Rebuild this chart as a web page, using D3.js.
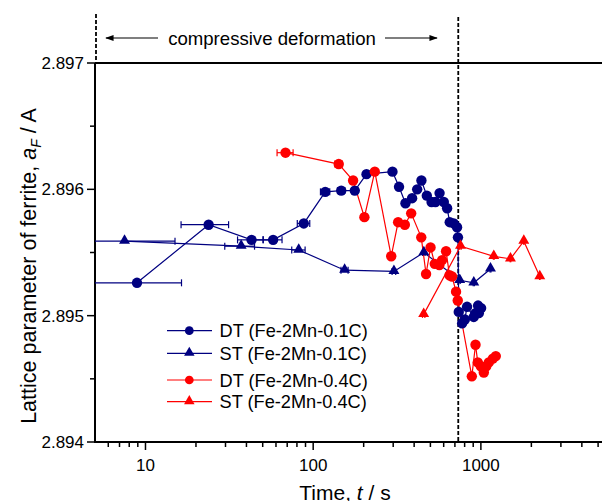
<!DOCTYPE html>
<html><head><meta charset="utf-8">
<script src="https://cdn.jsdelivr.net/npm/d3@7/dist/d3.min.js"></script>
<style>
html,body{margin:0;padding:0;background:#fff;}
svg{display:block;font-family:"Liberation Sans",Arial,Helvetica,sans-serif;}
</style></head>
<body><svg id="chart" width="602" height="501"></svg>
<script>
// ---- data (time in s, lattice parameter in A) ----
const dt01Time = [8.9, 23.8, 42.9, 57.7, 87.9, 118, 147, 177, 208, 297, 325, 355, 389, 417, 442, 476, 508, 536, 567, 601, 629, 652, 689, 721, 730, 738, 773, 802, 827, 907, 929, 962, 972, 1003];
const dt01Val  = [2.89526, 2.89572, 2.89560, 2.89560, 2.89573, 2.89598, 2.89599, 2.89599, 2.89612, 2.89614, 2.89602, 2.89589, 2.89593, 2.89600, 2.89607, 2.89595, 2.89590, 2.89590, 2.89597, 2.89590, 2.89585, 2.89574, 2.89573, 2.89570, 2.89562, 2.89503, 2.89494, 2.89497, 2.89507, 2.89499, 2.89502, 2.89508, 2.89502, 2.89506];

const st01Time = [7.5, 37.2, 82, 154, 303, 457, 748, 907, 1141];
const st01Val  = [2.89559, 2.89555, 2.89552, 2.89536, 2.89535, 2.89550, 2.89528, 2.89526, 2.89537];

const dt04Time = [68.4, 142, 173, 202, 233, 292, 321, 352, 384, 441, 471, 501, 531, 565, 587, 620, 650, 673, 711, 728, 883, 929, 958, 999, 1041, 1077, 1115, 1178, 1227];
const dt04Val  = [2.89629, 2.89620, 2.89607, 2.89578, 2.89614, 2.89547, 2.89574, 2.89572, 2.89581, 2.89562, 2.89533, 2.89554, 2.89541, 2.89540, 2.89544, 2.89551, 2.89532, 2.89531, 2.89519, 2.89512, 2.89452, 2.89477, 2.89463, 2.89460, 2.89455, 2.89460, 2.89463, 2.89466, 2.89468];

const st04Time = [456, 756, 1194, 1501, 1803, 2245];
const st04Val  = [2.89501, 2.89555, 2.89547, 2.89545, 2.89559, 2.89531];

const timeErr = 7.5; // +/- s
const seriesNames = ["DT (Fe-2Mn-0.1C)", "ST (Fe-2Mn-0.1C)", "DT (Fe-2Mn-0.4C)", "ST (Fe-2Mn-0.4C)"];
const yTickLabels = [2.894, 2.895, 2.896, 2.897];
const xTickLabels = [10, 100, 1000];
const deformationStart = 5, deformationEnd = 733;

// ---- layout ----
const svg = d3.select("#chart");
const xMin = 5, xMax = 7000;
const pL = 95, pT = 63, pB = 442, decadePx = 167.7;
const x = d3.scaleLog().domain([xMin, xMax]).range([pL, pL + decadePx * Math.log10(xMax / xMin)]);
const y = d3.scaleLinear().domain([2.894, 2.897]).range([pB, pT]);
const navy = "#000080", red = "#ff0000";

const series = [
  {name: seriesNames[0], t: dt01Time, v: dt01Val, color: navy, shape: "circle"},
  {name: seriesNames[1], t: st01Time, v: st01Val, color: navy, shape: "triangle"},
  {name: seriesNames[2], t: dt04Time, v: dt04Val, color: red, shape: "circle"},
  {name: seriesNames[3], t: st04Time, v: st04Val, color: red, shape: "triangle"}
];
const circ = d3.symbol().type(d3.symbolCircle).size(Math.PI * 5.2 * 5.2);
const tri = d3.symbol().type(d3.symbolTriangle).size(52);

svg.append("clipPath").attr("id", "plotclip").append("rect")
  .attr("x", pL).attr("y", 0).attr("width", 700).attr("height", pB);

// dashed vertical lines
svg.append("line").attr("x1", x(deformationStart) + 1).attr("x2", x(deformationStart) + 1)
  .attr("y1", 14).attr("y2", pT).attr("stroke", "#000").attr("stroke-width", 1.8).attr("stroke-dasharray", "4,2");
svg.append("line").attr("x1", x(deformationEnd)).attr("x2", x(deformationEnd))
  .attr("y1", 17).attr("y2", pB).attr("stroke", "#000").attr("stroke-width", 1.8).attr("stroke-dasharray", "4,2");

// annotation
svg.append("defs").html('<marker id="ah" viewBox="0 0 10 10" refX="9" refY="5" markerWidth="7" markerHeight="7" orient="auto-start-reverse"><path d="M0,1.5 L10,5 L0,8.5 z" fill="#000"/></marker>');
svg.append("line").attr("x1", 158).attr("x2", 106).attr("y1", 38).attr("y2", 38)
  .attr("stroke", "#000").attr("stroke-width", 1.2).attr("marker-end", "url(#ah)");
svg.append("line").attr("x1", 385).attr("x2", 437).attr("y1", 38).attr("y2", 38)
  .attr("stroke", "#000").attr("stroke-width", 1.2).attr("marker-end", "url(#ah)");
svg.append("text").attr("x", 272).attr("y", 44.5).attr("text-anchor", "middle")
  .attr("font-size", 18.6).text("compressive deformation");

// axes
const xAxis = svg.append("g").attr("transform", `translate(0,${pB})`);
xAxis.append("line").attr("x1", pL).attr("x2", 602).attr("stroke", "#000").attr("stroke-width", 2);
const minorX = [];
[1, 10, 100, 1000].forEach(d => { for (let k = 1; k <= 9; k++) { const v = d * k; if (v > xMin && v < xMax && !xTickLabels.includes(v)) minorX.push(v); } });
xAxis.selectAll(".mx").data(minorX).enter().append("line")
  .attr("x1", d => x(d)).attr("x2", d => x(d)).attr("y1", 0).attr("y2", 5).attr("stroke", "#000").attr("stroke-width", 1.5);
xAxis.selectAll(".Mx").data(xTickLabels).enter().append("line")
  .attr("x1", d => x(d)).attr("x2", d => x(d)).attr("y1", 0).attr("y2", 8).attr("stroke", "#000").attr("stroke-width", 1.5);
xAxis.selectAll(".lx").data(xTickLabels).enter().append("text")
  .attr("x", d => x(d)).attr("y", 29).attr("text-anchor", "middle").attr("font-size", 17).text(d => d);

const yAxis = svg.append("g");
yAxis.append("line").attr("x1", pL).attr("x2", pL).attr("y1", pT).attr("y2", pB + 1).attr("stroke", "#000").attr("stroke-width", 2);
svg.append("line").attr("x1", pL).attr("x2", 602).attr("y1", pT).attr("y2", pT).attr("stroke", "#000").attr("stroke-width", 2);
const minorY = [2.8945, 2.8955, 2.8965];
yAxis.selectAll(".my").data(minorY).enter().append("line")
  .attr("x1", pL - 5).attr("x2", pL).attr("y1", d => y(d)).attr("y2", d => y(d)).attr("stroke", "#000").attr("stroke-width", 1.5);
yAxis.selectAll(".My").data(yTickLabels).enter().append("line")
  .attr("x1", pL - 8).attr("x2", pL).attr("y1", d => y(d)).attr("y2", d => y(d)).attr("stroke", "#000").attr("stroke-width", 1.5);
yAxis.selectAll(".ly").data(yTickLabels).enter().append("text")
  .attr("x", pL - 11).attr("y", d => y(d) + 6).attr("text-anchor", "end").attr("font-size", 17).text(d => d3.format(".3f")(d));

// axis titles
const xt = svg.append("text").attr("x", 345).attr("y", 500).attr("text-anchor", "middle").attr("font-size", 21);
xt.append("tspan").text("Time, ");
xt.append("tspan").attr("font-style", "italic").text("t");
xt.append("tspan").text(" / s");
const yt = svg.append("text").attr("transform", "translate(36,266) rotate(-90)").attr("text-anchor", "middle").attr("font-size", 21.5);
yt.append("tspan").text("Lattice parameter of ferrite, ");
yt.append("tspan").attr("font-style", "italic").text("a");
yt.append("tspan").attr("font-style", "italic").attr("font-size", 14).attr("dy", 5).text("F");
yt.append("tspan").attr("dy", -5).text(" / A");

// data
const plot = svg.append("g").attr("clip-path", "url(#plotclip)");
series.forEach(s => {
  const pts = s.t.map((t, i) => ({t, v: s.v[i]}));
  const line = d3.line().x(d => x(d.t)).y(d => y(d.v));
  plot.append("path").datum(pts).attr("d", line).attr("fill", "none").attr("stroke", s.color).attr("stroke-width", 1.2);
  const eb = plot.append("g").attr("stroke", s.color).attr("stroke-width", 1.2);
  pts.forEach(p => {
    const x0 = x(Math.max(p.t - timeErr, 1e-3)), x1 = x(p.t + timeErr), yy = y(p.v);
    eb.append("line").attr("x1", x0).attr("x2", x1).attr("y1", yy).attr("y2", yy);
    eb.append("line").attr("x1", x0).attr("x2", x0).attr("y1", yy - 3.5).attr("y2", yy + 3.5);
    eb.append("line").attr("x1", x1).attr("x2", x1).attr("y1", yy - 3.5).attr("y2", yy + 3.5);
  });
  s.pts = pts;
});
series.forEach(s => {
  plot.append("g").selectAll("path").data(s.pts).enter().append("path")
    .attr("d", s.shape === "circle" ? circ : tri)
    .attr("transform", d => `translate(${x(d.t)},${y(d.v) + (s.shape === "triangle" ? -0.5 : 0)})`)
    .attr("fill", s.color);
});

// legend
const legY = [330.7, 353.3, 380, 401.7];
const leg = svg.append("g");
series.forEach((s, i) => {
  const g = leg.append("g").attr("transform", `translate(0,${legY[i]})`);
  g.append("line").attr("x1", 167).attr("x2", 212).attr("stroke", s.color).attr("stroke-width", 1.2);
  g.append("path").attr("d", s.shape === "circle" ? d3.symbol().type(d3.symbolCircle).size(60) : d3.symbol().type(d3.symbolTriangle).size(48))
    .attr("transform", `translate(189.3,${s.shape === "triangle" ? -0.5 : 0})`).attr("fill", s.color);
  g.append("text").attr("x", 219.5).attr("y", 6.5).attr("font-size", 18.2).text(s.name);
});
</script></body></html>
